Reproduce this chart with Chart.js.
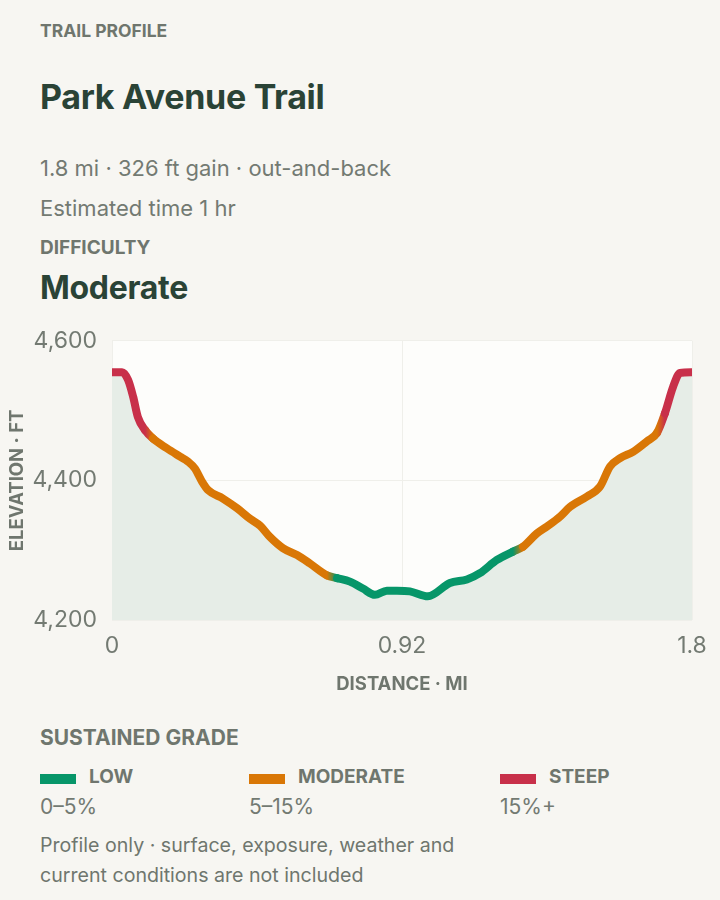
<!DOCTYPE html>
<html>
<head>
<meta charset="utf-8">
<script src="https://cdn.jsdelivr.net/npm/chart.js@4/dist/chart.umd.min.js"></script>
<style>
  html, body { margin: 0; padding: 0; }
  body { width: 720px; height: 900px; background: #f7f6f2; font-family: Inter, "Noto Sans", sans-serif; position: relative; overflow: hidden; }
  .t { position: absolute; left: 40px; white-space: nowrap; }
  .eyebrow { font-size: 17.5px; font-weight: 700; color: #6f766e; line-height: 22px; }
  .title { font-size: 34px; font-weight: 700; color: #2a4336; line-height: 42px; letter-spacing: -0.3px; }
  .meta { font-size: 22px; color: #737a72; line-height: 28px; }
  .diff { font-size: 32px; font-weight: 700; color: #2a4336; line-height: 38px; letter-spacing: -0.3px; }
  #chartBox { position: absolute; left: 0; top: 312px; width: 720px; height: 388px; }
  .legend-title { font-size: 21px; font-weight: 700; color: #6f766e; line-height: 26px; }
  .item { position: absolute; top: 765px; }
  .item .sw { position: absolute; left: 0; top: 9px; width: 36px; height: 10px; }
  .item .lab { position: absolute; left: 49px; top: 0; font-size: 19px; font-weight: 700; color: #6f766e; line-height: 24px; white-space: nowrap; }
  .item .rng { position: absolute; left: 0; top: 29px; font-size: 21px; color: #737a72; line-height: 26px; white-space: nowrap; }
  .note { font-size: 19.6px; color: #6f766e; line-height: 30px; }
</style>
</head>
<body>
  <div class="t eyebrow" style="top:20px">TRAIL PROFILE</div>
  <div class="t title" style="top:76px">Park Avenue Trail</div>
  <div class="t meta" style="top:154px">1.8 mi · 326 ft gain · out-and-back</div>
  <div class="t meta" style="top:194px">Estimated time 1 hr</div>
  <div class="t eyebrow" style="top:237px; font-size:19px">DIFFICULTY</div>
  <div class="t diff" style="top:269px">Moderate</div>

  <div id="chartBox"><canvas id="profile"></canvas></div>

  <div class="t legend-title" style="top:725px">SUSTAINED GRADE</div>
  <div id="legend"></div>
  <div class="t note" style="top:830px">Profile only · surface, exposure, weather and<br>current conditions are not included</div>

<script>
// distance along trail (mi) and elevation (ft)
const distances = [0, 0.032, 0.051, 0.067, 0.082, 0.105, 0.130, 0.174, 0.216, 0.241, 0.263, 0.286, 0.305, 0.352, 0.397, 0.438, 0.470, 0.501, 0.542, 0.587, 0.628, 0.682, 0.714, 0.755, 0.796, 0.834, 0.872, 0.904, 0.945, 1.002, 1.072, 1.126, 1.167, 1.221, 1.272, 1.304, 1.348, 1.380, 1.421, 1.453, 1.507, 1.548, 1.580, 1.612, 1.653, 1.697, 1.729, 1.754, 1.780, 1.802, 1.84];
const elevations = [4555, 4555, 4544, 4520, 4491, 4472, 4460, 4446, 4434, 4427, 4417, 4398, 4386, 4374, 4360, 4345, 4335, 4319, 4303, 4293, 4281, 4264, 4260, 4255, 4245, 4236, 4242, 4242, 4241, 4234, 4253, 4258, 4267, 4286, 4298, 4305, 4324, 4334, 4348, 4362, 4377, 4391, 4420, 4432, 4441, 4456, 4468, 4496, 4534, 4554, 4555];
// sustained grade class at each point: L = low, M = moderate, S = steep
const grades = ["S","S","S","S","S","S","M","M","M","M","M","M","M","M","M","M","M","M","M","M","M","M","L","L","L","L","L","L","L","L","L","L","L","L","L","M","M","M","M","M","M","M","M","M","M","M","M","S","S","S","S"];

const gradeKeys = ["L", "M", "S"];
const gradeNames = ["LOW", "MODERATE", "STEEP"];
const gradeRanges = ["0–5%", "5–15%", "15%+"];
const gradeColors = { L: "#079669", M: "#d97706", S: "#c8304a" };

const xTickValues = [0, 0.92, 1.84];
const xTickLabels = ["0", "0.92", "1.8"];

const legendLeft = [40, 249, 500];
document.getElementById("legend").innerHTML = gradeKeys
  .map((k, i) => `<div class="item" style="left:${legendLeft[i]}px"><span class="sw" style="background:${gradeColors[k]}"></span><span class="lab">${gradeNames[i]}</span><span class="rng">${gradeRanges[i]}</span></div>`)
  .join("");

const canvas = document.getElementById("profile");
const g2d = canvas.getContext("2d");

const plotBg = {
  id: "plotBg",
  beforeDraw(chart) {
    const { ctx, chartArea: a } = chart;
    ctx.save();
    ctx.fillStyle = "#fdfdfb";
    ctx.fillRect(a.left, a.top, a.right - a.left, a.bottom - a.top);
    ctx.restore();
  }
};

function segColor(ctx) {
  const a = gradeColors[grades[ctx.p0DataIndex]];
  const b = gradeColors[grades[ctx.p1DataIndex]];
  if (a === b) return a;
  const g = g2d.createLinearGradient(ctx.p0.x, 0, ctx.p1.x, 0);
  g.addColorStop(0, a);
  g.addColorStop(1, b);
  return g;
}

const points = distances.map((d, i) => ({ x: d, y: elevations[i] }));
const axisTitle = { family: "Inter, 'Noto Sans', sans-serif", size: 18.5, weight: "700" };
const tickFont = { family: "Inter, 'Noto Sans', sans-serif", size: 23 };

new Chart(canvas, {
  type: "line",
  data: {
    datasets: [
      {
        // grade-coloured profile line
        data: points,
        borderWidth: 8,
        borderCapStyle: "round",
        borderJoinStyle: "round",
        borderColor: gradeColors.M,
        fill: false,
        pointRadius: 0,
        cubicInterpolationMode: "monotone",
        segment: { borderColor: segColor }
      },
      {
        // shaded area under the profile
        data: points,
        borderWidth: 0,
        backgroundColor: "#e6ede7",
        fill: "start",
        pointRadius: 0,
        cubicInterpolationMode: "monotone"
      }
    ]
  },
  options: {
    responsive: true,
    maintainAspectRatio: false,
    animation: false,
    layout: { padding: { top: 15, right: 28, left: 0, bottom: 0 } },
    plugins: { legend: { display: false }, tooltip: { enabled: false } },
    scales: {
      x: {
        type: "linear",
        min: 0,
        max: 1.84,
        afterBuildTicks: (s) => { s.ticks = xTickValues.map((v) => ({ value: v })); },
        afterFit: (s) => { s.height = 80; },
        grid: { color: "#efefea", drawTicks: false },
        border: { display: false },
        ticks: { color: "#737a72", font: tickFont, padding: 12, maxRotation: 0, callback: (v) => xTickLabels[xTickValues.indexOf(v)] },
        title: { display: true, text: "DISTANCE · MI", color: "#6f766e", font: axisTitle, padding: { top: 4, bottom: 4 } }
      },
      y: {
        min: 4200,
        max: 4600,
        afterFit: (s) => { s.width = 112; },
        grid: { color: "#efefea", drawTicks: false },
        border: { display: false },
        ticks: { stepSize: 200, color: "#737a72", font: tickFont, padding: 15 },
        title: { display: true, text: "ELEVATION · FT", color: "#6f766e", font: axisTitle, padding: { top: 6, bottom: 4 } }
      }
    }
  },
  plugins: [plotBg]
});
</script>
</body>
</html>
